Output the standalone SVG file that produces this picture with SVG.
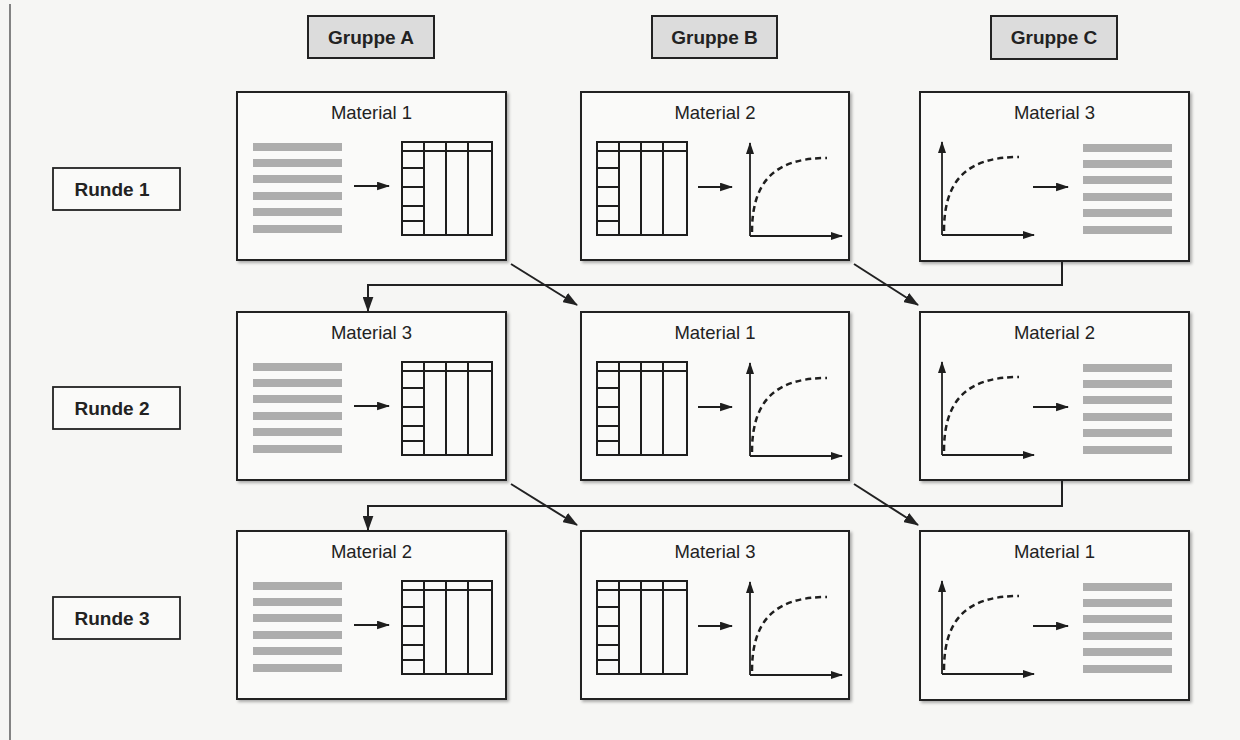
<svg xmlns="http://www.w3.org/2000/svg" xmlns:xlink="http://www.w3.org/1999/xlink" width="1240" height="740" viewBox="0 0 1240 740">
  <style>
    .page { fill: #f6f6f4; }
    .margin { stroke: #666; stroke-width: 1.6; fill: none; }
    .group-box { fill: #dcdcdc; stroke: #222; stroke-width: 2; }
    .round-box { fill: #fafaf9; stroke: #222; stroke-width: 1.8; }
    .panel { fill: #fafaf9; stroke: #222; stroke-width: 2; filter: url(#shadow); }
    .head { font-family: "Liberation Sans", Arial, sans-serif; font-weight: bold; font-size: 19px; fill: #222; text-anchor: middle; }
    .title { font-family: "Liberation Sans", Arial, sans-serif; font-size: 18.5px; fill: #222; text-anchor: middle; }
    .bar { fill: #adadad; }
    .grid { fill: none; stroke: #1e1e1e; stroke-width: 2; }
    .axis { fill: none; stroke: #1e1e1e; stroke-width: 1.8; }
    .curve { fill: none; stroke: #1e1e1e; stroke-width: 2.5; stroke-dasharray: 6 4; }
    .step { fill: none; stroke: #1e1e1e; stroke-width: 1.8; marker-end: url(#head-small); }
    .flow { fill: none; stroke: #222; stroke-width: 2; marker-end: url(#head-flow); }
  </style>
  <defs>
    <filter id="shadow" x="-5%" y="-5%" width="112%" height="115%">
      <feDropShadow dx="2" dy="2" stdDeviation="1.6" flood-color="#000" flood-opacity="0.3"/>
    </filter>
    <marker id="head-small" viewBox="0 0 12 8" refX="11" refY="4" markerWidth="13" markerHeight="9" markerUnits="userSpaceOnUse" orient="auto">
      <path d="M0,0 L12,4 L0,8 Z" fill="#1e1e1e"/>
    </marker>
    <marker id="head-axis" viewBox="0 0 12 8" refX="11" refY="4" markerWidth="12" markerHeight="8" markerUnits="userSpaceOnUse" orient="auto">
      <path d="M0,0 L12,4 L0,8 Z" fill="#1e1e1e"/>
    </marker>
    <marker id="head-flow" viewBox="0 0 14 10" refX="13" refY="5" markerWidth="15" markerHeight="11" markerUnits="userSpaceOnUse" orient="auto">
      <path d="M0,0 L14,5 L0,10 Z" fill="#222"/>
    </marker>

    <!-- text block: six grey bars -->
    <g id="bars">
      <rect class="bar" x="0" y="0" width="89" height="8"/>
      <rect class="bar" x="0" y="16" width="89" height="8"/>
      <rect class="bar" x="0" y="32" width="89" height="8"/>
      <rect class="bar" x="0" y="49" width="89" height="8"/>
      <rect class="bar" x="0" y="65" width="89" height="8"/>
      <rect class="bar" x="0" y="82" width="89" height="8"/>
    </g>

    <!-- table with header row and a divided first column -->
    <g id="table">
      <rect class="grid" x="0" y="0" width="90" height="93"/>
      <path class="grid" d="M22,0 V93 M44,0 V93 M66,0 V93 M0,9 H90 M0,26 H22 M0,45 H22 M0,64 H22 M0,79 H22"/>
    </g>

    <!-- chart: axes with a dashed saturation curve, origin at axis corner -->
    <g id="chart">
      <path class="axis" d="M0,0 V-93" marker-end="url(#head-axis)"/>
      <path class="axis" d="M0,0 H92" marker-end="url(#head-axis)"/>
      <path class="curve" d="M2,-4 C2,-55 25,-78 77,-78"/>
    </g>

    <!-- panel variants (box 269 x 168) -->
    <g id="kind-a">
      <use xlink:href="#bars" x="16" y="51"/>
      <path class="step" d="M117,94 H152"/>
      <use xlink:href="#table" x="165" y="50"/>
    </g>
    <g id="kind-b">
      <use xlink:href="#table" x="16" y="50"/>
      <path class="step" d="M117,95 H151"/>
      <use xlink:href="#chart" x="169" y="144"/>
    </g>
    <g id="kind-c">
      <use xlink:href="#chart" x="22" y="143"/>
      <path class="step" d="M113,95 H148"/>
      <use xlink:href="#bars" x="163" y="52"/>
    </g>
  </defs>

  <rect class="page" x="0" y="0" width="1240" height="740"/>
  <path class="margin" d="M10,4 V740"/>

  <!-- column headers -->
  <g id="gruppe-a">
    <rect class="group-box" x="308" y="16" width="126" height="42"/>
    <text class="head" x="371" y="44">Gruppe A</text>
  </g>
  <g id="gruppe-b">
    <rect class="group-box" x="652" y="16" width="125" height="42"/>
    <text class="head" x="714.5" y="44">Gruppe B</text>
  </g>
  <g id="gruppe-c">
    <rect class="group-box" x="991" y="16" width="126" height="43"/>
    <text class="head" x="1054" y="44">Gruppe C</text>
  </g>

  <!-- row headers -->
  <g id="runde-1">
    <rect class="round-box" x="53" y="168" width="127" height="42"/>
    <text class="head" x="112" y="196">Runde 1</text>
  </g>
  <g id="runde-2">
    <rect class="round-box" x="53" y="387" width="127" height="42"/>
    <text class="head" x="112" y="415">Runde 2</text>
  </g>
  <g id="runde-3">
    <rect class="round-box" x="53" y="597" width="127" height="42"/>
    <text class="head" x="112" y="625">Runde 3</text>
  </g>

  <!-- round 1 -->
  <g id="r1-a" transform="translate(237,92)">
    <rect class="panel" x="0" y="0" width="269" height="168"/>
    <text class="title" x="134.5" y="27">Material 1</text>
    <use xlink:href="#kind-a"/>
  </g>
  <g id="r1-b" transform="translate(581,92)">
    <rect class="panel" x="0" y="0" width="268" height="168"/>
    <text class="title" x="134" y="27">Material 2</text>
    <use xlink:href="#kind-b"/>
  </g>
  <g id="r1-c" transform="translate(920,92)">
    <rect class="panel" x="0" y="0" width="269" height="169"/>
    <text class="title" x="134.5" y="27">Material 3</text>
    <use xlink:href="#kind-c"/>
  </g>

  <!-- round 2 -->
  <g id="r2-a" transform="translate(237,312)">
    <rect class="panel" x="0" y="0" width="269" height="168"/>
    <text class="title" x="134.5" y="27">Material 3</text>
    <use xlink:href="#kind-a"/>
  </g>
  <g id="r2-b" transform="translate(581,312)">
    <rect class="panel" x="0" y="0" width="268" height="168"/>
    <text class="title" x="134" y="27">Material 1</text>
    <use xlink:href="#kind-b"/>
  </g>
  <g id="r2-c" transform="translate(920,312)">
    <rect class="panel" x="0" y="0" width="269" height="168"/>
    <text class="title" x="134.5" y="27">Material 2</text>
    <use xlink:href="#kind-c"/>
  </g>

  <!-- round 3 -->
  <g id="r3-a" transform="translate(237,531)">
    <rect class="panel" x="0" y="0" width="269" height="168"/>
    <text class="title" x="134.5" y="27">Material 2</text>
    <use xlink:href="#kind-a"/>
  </g>
  <g id="r3-b" transform="translate(581,531)">
    <rect class="panel" x="0" y="0" width="268" height="168"/>
    <text class="title" x="134" y="27">Material 3</text>
    <use xlink:href="#kind-b"/>
  </g>
  <g id="r3-c" transform="translate(920,531)">
    <rect class="panel" x="0" y="0" width="269" height="169"/>
    <text class="title" x="134.5" y="27">Material 1</text>
    <use xlink:href="#kind-c"/>
  </g>

  <!-- rotation of materials between rounds -->
  <g id="connectors">
    <path class="flow" d="M511,264 L577,305"/>
    <path class="flow" d="M854,264 L918,305"/>
    <path class="flow" d="M1062,261 V285 H368 V311"/>
    <path class="flow" d="M511,484 L577,525"/>
    <path class="flow" d="M854,484 L918,525"/>
    <path class="flow" d="M1062,481 V506 H368 V530"/>
  </g>
</svg>
